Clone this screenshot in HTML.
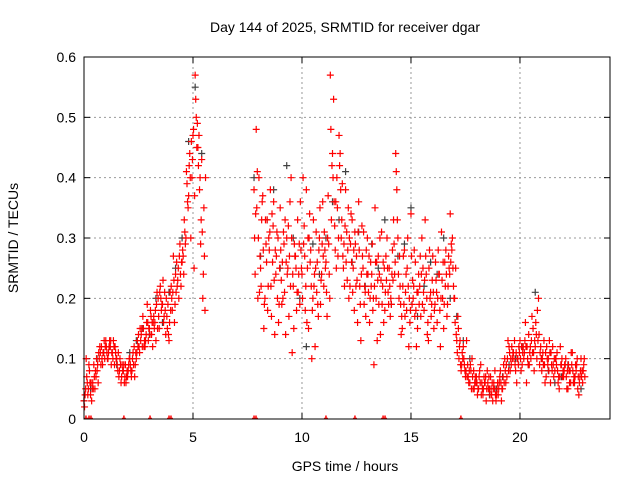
<!DOCTYPE html>
<html><head><meta charset="utf-8"><style>
body{margin:0;background:#fff;}
svg{display:block;font-family:"Liberation Sans",sans-serif;}
</style></head><body>
<svg id="chart" width="640" height="480">
<text x="345" y="32" font-size="14" text-anchor="middle">Day 144 of 2025, SRMTID for receiver dgar</text>
<text x="345" y="471" font-size="14" text-anchor="middle">GPS time / hours</text>
<text x="18" y="238" font-size="14" text-anchor="middle" transform="rotate(-90 18 238)">SRMTID / TECUs</text>
<g id="grid"></g>
<g id="marks"></g>
<rect x="84" y="57" width="526" height="362" fill="none" stroke="#000"/>
</svg>
<script>
const xTicks=[0,5,10,15,20];
const yTicks=[0,0.1,0.2,0.3,0.4,0.5,0.6];
const yTickLabels=["0","0.1","0.2","0.3","0.4","0.5","0.6"];
const redA1=[0.03,0.10,0.05,0.04,0.06,0.05,0.08,0.10,0.12,0.11,0.13,0.10,0.12,0.11,0.09,0.10,0.07,0.06,0.08,0.09,0.07,0.10,0.08,0.12,0.10,0.14,0.13,0.17,0.12,0.19,0.15,0.14,0.17,0.13,0.20,0.22,0.19,0.21,0.17,0.13,0.22,0.27,0.24,0.23,0.29,0.26,0.33,0.41,0.37,0.30,0.47,0.57,0.49,0.38,0.43,0.35];
const redA2=[0.04,0.06,0.08,0.03,0.09,0.07,0.06,0.11,0.09,0.10,0.11,0.12,0.09,0.13,0.11,0.08,0.10,0.09,0.06,0.07,0.09,0.08,0.11,0.09,0.13,0.11,0.15,0.12,0.14,0.13,0.18,0.12,0.16,0.21,0.15,0.18,0.16,0.14,0.19,0.21,0.18,0.16,0.26,0.20,0.22,0.27,0.29,0.36,0.44,0.40,0.25,0.50,0.42,0.29,0.20,0.18];
const redA3=[0.02,0.07,0.09,0.06,0.05,0.08,0.09,0.12,0.10,0.13,0.12,0.11,0.13,0.10,0.12,0.09,0.08,0.07,0.09,0.06,0.08,0.09,0.10,0.07,0.11,0.12,0.14,0.15,0.13,0.16,0.14,0.16,0.15,0.19,0.17,0.20,0.23,0.18,0.15,0.16,0.20,0.23,0.21,0.25,0.24,0.28,0.31,0.39,0.42,0.46,0.48,0.53,0.45,0.40,0.31,0.27];
const redA4=[0.05,0.04,0.06,0.05,0.07,0.10,0.11,0.09,0.11,0.12,0.10,0.13,0.11,0.12,0.10,0.11,0.09,0.08,0.07,0.08,0.10,0.07,0.09,0.11,0.12,0.15,0.12,0.13,0.16,0.15,0.17,0.16,0.18,0.15,0.21,0.19,0.17,0.20,0.14,0.18,0.21,0.19,0.22,0.27,0.26,0.24,0.30,0.35,0.40,0.43,0.37,0.45,0.47,0.33,0.24,0.40];
const redB1=[0.38,0.48,0.30,0.25,0.37,0.20,0.33,0.28,0.17,0.36,0.24,0.30,
0.35,0.26,0.21,0.30,0.17,0.40,0.22,0.27,0.33,0.19,
0.24,0.32,0.38,0.15,0.28,0.20,0.12,0.26,0.30,0.24,
0.22,0.26,0.37,0.57,0.44,0.32,0.40,0.47,0.30,0.25,
0.38,0.28,0.22,0.33,0.18,0.27,0.36,0.13,0.25,0.21,
0.30,0.16,0.24,0.09,0.20,0.27,0.14,0.22,0.18,0.30,
0.25,0.19,0.33,0.44,0.30,0.22,0.15,0.28,0.18,0.12,
0.34,0.20,0.26,0.15,0.22,0.30,0.18,0.24,0.13,0.21,
0.27,0.19,0.16,0.24,0.31,0.15,0.28,0.22,0.34,0.30,
0.20,0.13,0.10,0.08,0.12,0.07,0.09,0.06,0.10,0.05,
0.07,0.05,0.09,0.04,0.06,0.08,0.05,0.04,0.06,0.03,
0.04,0.08,0.05,0.10,0.07,0.12,0.09,0.11,0.08,0.10,
0.13,0.09,0.11,0.06,0.14,0.10,0.15,0.12,0.18,0.09,
0.08,0.13,0.07,0.10,0.06,0.12,0.08,0.11,0.05,0.09,
0.07,0.10,0.05,0.08,0.11,0.06,0.09,0.04,0.10,0.08];
const redB2=[0.24,0.41,0.21,0.33,0.15,0.29,0.22,0.38,0.26,0.14,0.31,0.19,
0.23,0.31,0.14,0.25,0.36,0.11,0.29,0.18,0.24,0.28,
0.40,0.18,0.25,0.34,0.10,0.22,0.31,0.17,0.19,0.36,
0.28,0.17,0.24,0.33,0.53,0.36,0.27,0.44,0.39,0.22,
0.31,0.20,0.34,0.25,0.29,0.16,0.22,0.32,0.19,0.28,
0.21,0.26,0.18,0.35,0.13,0.24,0.31,0.16,0.27,0.21,
0.17,0.28,0.24,0.38,0.20,0.14,0.27,0.21,0.30,0.16,
0.19,0.28,0.12,0.24,0.17,0.25,0.33,0.14,0.28,0.19,
0.15,0.23,0.28,0.12,0.20,0.26,0.17,0.25,0.29,0.22,
0.25,0.17,0.13,0.11,0.09,0.13,0.06,0.08,0.05,0.07,
0.04,0.08,0.06,0.07,0.03,0.05,0.07,0.03,0.08,0.05,
0.06,0.03,0.09,0.06,0.13,0.08,0.10,0.13,0.06,0.12,
0.08,0.12,0.16,0.10,0.11,0.17,0.08,0.14,0.20,0.12,
0.11,0.06,0.10,0.13,0.09,0.07,0.10,0.06,0.12,0.07,
0.09,0.05,0.08,0.11,0.06,0.09,0.05,0.07,0.08,0.10];
const redB3=[0.30,0.35,0.40,0.22,0.28,0.33,0.18,0.31,0.34,0.23,0.27,0.16,
0.28,0.20,0.33,0.24,0.27,0.30,0.15,0.25,0.21,0.36,
0.20,0.27,0.16,0.30,0.22,0.33,0.25,0.19,0.35,0.29,
0.31,0.21,0.29,0.48,0.40,0.28,0.35,0.42,0.33,0.29,
0.26,0.35,0.29,0.21,0.31,0.23,0.28,0.24,0.31,0.17,
0.24,0.20,0.29,0.22,0.26,0.19,0.23,0.26,0.21,0.25,
0.22,0.24,0.29,0.41,0.24,0.19,0.22,0.17,0.25,0.20,
0.27,0.22,0.18,0.21,0.27,0.19,0.23,0.20,0.25,0.17,
0.21,0.26,0.20,0.18,0.23,0.19,0.24,0.27,0.26,0.25,
0.16,0.11,0.12,0.09,0.10,0.08,0.07,0.09,0.07,0.06,
0.06,0.07,0.04,0.05,0.07,0.06,0.04,0.06,0.05,0.04,
0.05,0.06,0.07,0.08,0.10,0.11,0.12,0.10,0.11,0.09,
0.10,0.11,0.13,0.12,0.09,0.13,0.11,0.16,0.13,0.11,
0.10,0.09,0.12,0.08,0.11,0.09,0.10,0.08,0.07,0.10,
0.08,0.07,0.09,0.06,0.08,0.07,0.10,0.06,0.07,0.09];
const redB4=[0.34,0.20,0.27,0.36,0.19,0.26,0.30,0.22,0.32,0.28,0.20,0.25,
0.19,0.29,0.26,0.32,0.22,0.24,0.27,0.21,0.29,0.25,
0.29,0.22,0.30,0.26,0.18,0.24,0.21,0.28,0.23,0.27,
0.25,0.30,0.20,0.42,0.36,0.25,0.30,0.38,0.27,0.32,
0.23,0.30,0.26,0.28,0.22,0.31,0.19,0.27,0.22,0.24,
0.27,0.22,0.20,0.26,0.23,0.30,0.19,0.25,0.23,0.19,
0.20,0.23,0.26,0.33,0.27,0.17,0.19,0.24,0.22,0.18,
0.23,0.17,0.21,0.19,0.24,0.21,0.27,0.16,0.20,0.23,
0.18,0.21,0.24,0.20,0.26,0.22,0.19,0.24,0.28,0.20,
0.14,0.15,0.09,0.10,0.08,0.07,0.08,0.05,0.08,0.06,
0.05,0.06,0.05,0.06,0.05,0.07,0.05,0.05,0.04,0.06,
0.07,0.05,0.06,0.09,0.08,0.10,0.11,0.09,0.10,0.11,
0.12,0.10,0.12,0.09,0.12,0.11,0.13,0.10,0.14,0.10,
0.09,0.11,0.09,0.11,0.08,0.10,0.09,0.07,0.09,0.08,
0.09,0.08,0.06,0.09,0.07,0.08,0.07,0.08,0.06,0.07];
const grayA=[0.03,0.05,0.10,0.11,0.12,0.09,0.08,0.11,0.13,0.15,0.14,0.20,0.16,0.21,0.25,0.30,0.46,0.55,0.44];
const grayB=[0.40,0.27,0.33,0.38,0.25,0.42,0.30,0.20,0.12,0.29,0.24,0.30,0.36,0.33,0.41,0.26,0.31,0.22,0.29,0.25,0.33,0.19,0.27,0.29,0.35,0.17,0.22,0.26,0.24,0.30,0.20,0.17,0.13,0.10,0.06,0.05,0.04,0.05,0.07,0.09,0.10,0.12,0.09,0.21,0.10,0.08,0.06,0.07,0.09,0.06,0.05];
const zeroTimes=[0.09,0.23,0.32,1.83,3.03,3.9,3.99,7.8,7.89,11.1,12.43,13.72,13.81,17.29];
const segAStart=0.0, segBStart=7.8, redStep=0.1, grayStep=0.3;

const NS="http://www.w3.org/2000/svg";
const X0=84,X1=610,Y0=419,Y1=57,XMAX=24.13,YMAX=0.6;
function sx(t){return X0+t/XMAX*(X1-X0);}
function sy(v){return Y0-v/YMAX*(Y0-Y1);}
const grid=document.getElementById('grid'),marks=document.getElementById('marks');
function mk(tag,attrs,parent){const e=document.createElementNS(NS,tag);for(const k in attrs)e.setAttribute(k,attrs[k]);parent.appendChild(e);return e;}
yTicks.forEach((v,i)=>{
  const y=sy(v);
  if(i>0&&i<yTicks.length-1){const g=mk('line',{x1:X0,x2:X1,y1:y,y2:y,stroke:'#999','stroke-dasharray':'2,3'},grid);
  
  }
  mk('line',{x1:X0,x2:X0+6,y1:y,y2:y,stroke:'#000'},grid);
  mk('line',{x1:X1,x2:X1-6,y1:y,y2:y,stroke:'#000'},grid);
  const t=mk('text',{x:X0-8,y:y+5,'font-size':14,'text-anchor':'end'},grid);t.textContent=yTickLabels[i];
  
  
});
xTicks.forEach(v=>{
  const x=sx(v);
  if(v>0){const g=mk('line',{x1:x,x2:x,y1:Y0,y2:Y1,stroke:'#999','stroke-dasharray':'2,3'},grid);
  
  }
  mk('line',{x1:x,x2:x,y1:Y0,y2:Y0-6,stroke:'#000'},grid);
  mk('line',{x1:x,x2:x,y1:Y1,y2:Y1+6,stroke:'#000'},grid);
  const t=mk('text',{x:x,y:Y0+23,'font-size':14,'text-anchor':'middle'},grid);t.textContent=String(v);
  
  
});
function plus(t,v,color,name){
  const x=sx(t),y=sy(v);
  const p=mk('path',{d:`M${x-3.5} ${y}H${x+3.5}M${x} ${y-3.5}V${y+3.5}`,stroke:color,'stroke-width':1.2,fill:'none'},marks);
  
  
}
function series(vals,start,step,color,name){vals.forEach((v,i)=>plus(start+i*step,v,color,name));}
series(grayA,segAStart,grayStep,'#404040','gray-point');
series(grayB,segBStart,grayStep,'#404040','gray-point');
series(redA1,segAStart,redStep,'#ff0000','red-point');
series(redA2,segAStart+0.05,redStep,'#ff0000','red-point');
series(redA3,segAStart+0.025,redStep,'#ff0000','red-point');
series(redA4,segAStart+0.075,redStep,'#ff0000','red-point');
series(redB1,segBStart,redStep,'#ff0000','red-point');
series(redB2,segBStart+0.05,redStep,'#ff0000','red-point');
series(redB3,segBStart+0.025,redStep,'#ff0000','red-point');
series(redB4,segBStart+0.075,redStep,'#ff0000','red-point');
zeroTimes.forEach(t=>{
  const x=sx(t);
  const p=mk('path',{d:`M${x} ${Y0-3.5}V${Y0}M${x-2} ${Y0-0.5}H${x+2}`,stroke:'#ff0000','stroke-width':1.5,fill:'none'},marks);
  
  
});
</script>
</body></html>
